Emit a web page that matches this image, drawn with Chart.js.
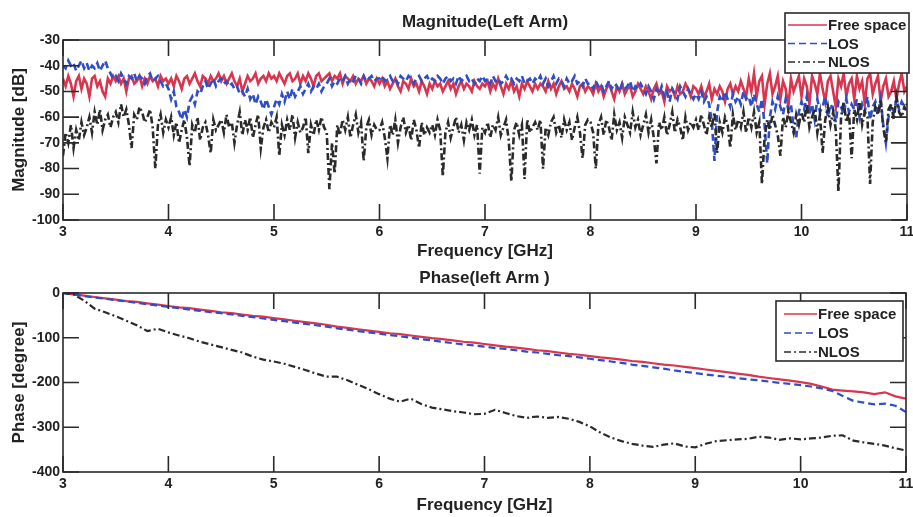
<!DOCTYPE html>
<html>
<head>
<meta charset="utf-8">
<title>Left Arm channel response</title>
<script src="https://cdn.jsdelivr.net/npm/chart.js@4.4.0/dist/chart.umd.min.js"></script>
<style>
  body { margin: 0; background: #fff; }
  canvas { display: block; }
</style>
</head>
<body>
<canvas id="magChart" width="913" height="264"></canvas>
<canvas id="phaseChart" width="913" height="253"></canvas>
<script>
// magnitude traces, 3 to 11 GHz every 25 MHz (dB)
const magStart = 3, magStep = 0.025;

const freeSpaceMag = [
  -45,-48,-44,-47,-52,-46,-44,-49,-45,-47,-52,-45,-44,-48,-46,-50,-52,-45,-47,-44,
  -46,-44,-47,-45,-50,-45,-44,-47,-46,-44,-48,-45,-47,-44,-46,-45,-48,-44,-46,-45,
  -47,-45,-48,-44,-46,-49,-45,-44,-47,-45,-43,-46,-48,-44,-45,-47,-44,-46,-45,-43,
  -46,-44,-47,-45,-43,-46,-48,-45,-50,-47,-44,-46,-45,-43,-47,-45,-44,-46,-43,-45,
  -44,-46,-43,-45,-47,-44,-43,-46,-45,-43,-47,-44,-46,-43,-45,-48,-44,-43,-46,-45,
  -44,-43,-46,-44,-45,-43,-47,-44,-45,-46,-44,-47,-45,-46,-44,-47,-45,-46,-48,-45,
  -47,-45,-48,-46,-49,-47,-45,-48,-50,-46,-47,-49,-45,-48,-47,-50,-46,-48,-51,-47,
  -49,-46,-48,-47,-50,-48,-46,-49,-47,-51,-48,-46,-49,-47,-48,-50,-46,-48,-49,-47,
  -48,-46,-50,-47,-49,-45,-48,-51,-47,-49,-46,-50,-48,-52,-47,-49,-46,-48,-50,-47,
  -49,-47,-48,-50,-46,-49,-47,-51,-48,-46,-49,-48,-50,-47,-49,-52,-48,-47,-50,-48,
  -49,-51,-47,-50,-48,-52,-49,-47,-50,-53,-48,-50,-47,-51,-49,-48,-52,-50,-47,-49,
  -51,-48,-50,-53,-49,-47,-51,-50,-54,-48,-50,-49,-52,-48,-51,-50,-47,-49,-52,-48,
  -49,-51,-48,-52,-50,-47,-53,-49,-51,-48,-50,-54,-49,-47,-51,-48,-50,-46,-49,-52,
  -45,-50,-43,-52,-46,-44,-55,-47,-43,-51,-48,-44,-53,-46,-49,-56,-45,-50,-47,-44,
  -52,-45,-48,-55,-44,-47,-51,-43,-49,-54,-46,-44,-50,-56,-45,-48,-43,-52,-47,-45,
  -53,-44,-49,-46,-55,-45,-43,-51,-47,-44,-54,-48,-45,-52,-50,-46,-53,-47,-43,-50,
  -48
];

const losMag = [
  -40,-41,-38,-40,-39,-42,-40,-38,-41,-39,-42,-40,-41,-39,-42,-40,-38,-41,-43,-45,
  -44,-46,-43,-45,-47,-44,-45,-43,-46,-44,-45,-47,-44,-43,-46,-45,-44,-46,-48,-47,
  -49,-53,-50,-56,-58,-61,-57,-60,-54,-52,-55,-50,-51,-48,-46,-49,-47,-45,-48,-46,
  -45,-47,-46,-48,-47,-49,-48,-51,-50,-52,-49,-53,-51,-55,-52,-54,-57,-53,-56,-59,
  -56,-53,-55,-51,-54,-50,-53,-49,-52,-50,-48,-51,-49,-47,-50,-48,-49,-47,-50,-48,
  -47,-45,-48,-46,-47,-45,-46,-44,-47,-45,-46,-44,-45,-47,-44,-46,-45,-44,-46,-45,
  -45,-44,-46,-45,-44,-46,-45,-47,-44,-45,-46,-44,-45,-47,-45,-44,-46,-45,-44,-46,
  -45,-46,-44,-45,-47,-45,-44,-46,-45,-47,-44,-46,-45,-44,-46,-45,-47,-45,-46,-44,
  -46,-45,-47,-44,-46,-45,-47,-46,-44,-46,-45,-47,-45,-46,-44,-47,-46,-45,-47,-45,
  -46,-44,-47,-45,-48,-46,-44,-47,-45,-46,-48,-45,-47,-46,-44,-47,-46,-48,-45,-47,
  -47,-49,-46,-48,-47,-50,-48,-46,-49,-47,-48,-50,-47,-49,-48,-46,-50,-48,-49,-47,
  -49,-51,-48,-50,-53,-49,-51,-48,-52,-50,-54,-49,-51,-53,-48,-50,-52,-49,-51,-53,
  -51,-53,-50,-54,-52,-55,-62,-77,-58,-52,-54,-50,-53,-56,-51,-54,-52,-55,-50,-53,
  -52,-56,-51,-55,-58,-53,-63,-78,-60,-54,-57,-52,-56,-59,-53,-57,-55,-64,-68,-58,
  -54,-57,-52,-59,-55,-61,-53,-58,-56,-52,-60,-55,-57,-62,-54,-56,-59,-53,-58,-55,
  -57,-53,-60,-55,-58,-52,-61,-56,-54,-59,-53,-63,-70,-60,-55,-58,-53,-57,-54,-56,
  -55
];

const nlosMag = [
  -75,-66,-70,-63,-72,-65,-69,-62,-67,-64,-60,-66,-58,-63,-57,-65,-61,-59,-64,-60,
  -58,-62,-55,-60,-57,-63,-72,-59,-61,-56,-58,-62,-60,-57,-64,-80,-63,-59,-66,-61,
  -64,-60,-67,-62,-70,-65,-61,-68,-79,-63,-66,-60,-69,-64,-62,-67,-74,-61,-65,-63,
  -61,-66,-59,-64,-62,-70,-63,-58,-67,-61,-65,-60,-68,-63,-59,-72,-64,-61,-66,-62,
  -64,-60,-75,-63,-67,-61,-65,-59,-68,-62,-66,-64,-60,-74,-63,-67,-61,-65,-60,-64,
  -66,-88,-70,-82,-63,-67,-61,-65,-60,-68,-63,-59,-66,-62,-77,-64,-61,-67,-63,-65,
  -65,-62,-68,-76,-63,-67,-61,-70,-64,-60,-66,-63,-69,-61,-65,-72,-62,-67,-64,-66,
  -63,-67,-61,-65,-83,-66,-62,-68,-64,-60,-66,-63,-69,-62,-65,-61,-67,-63,-82,-64,
  -66,-62,-68,-63,-65,-60,-67,-64,-61,-69,-85,-65,-62,-67,-63,-84,-61,-66,-64,-62,
  -65,-61,-80,-64,-67,-62,-60,-66,-63,-68,-61,-65,-62,-69,-64,-60,-66,-76,-63,-61,
  -62,-66,-80,-63,-60,-67,-61,-64,-69,-59,-65,-62,-68,-60,-63,-66,-58,-64,-61,-67,
  -63,-59,-66,-61,-68,-78,-62,-65,-60,-67,-63,-58,-66,-61,-64,-69,-60,-65,-62,-64,
  -61,-65,-59,-63,-67,-60,-64,-58,-74,-62,-66,-60,-63,-72,-59,-65,-61,-64,-58,-66,
  -60,-64,-58,-66,-62,-86,-68,-61,-65,-59,-63,-67,-75,-60,-64,-58,-62,-66,-59,-63,
  -58,-62,-55,-64,-60,-57,-66,-59,-74,-61,-56,-63,-58,-65,-89,-60,-54,-62,-58,-76,
  -57,-61,-54,-63,-58,-60,-86,-62,-56,-59,-53,-64,-70,-57,-55,-61,-52,-58,-60,-56,
  -58
];

// unwrapped phase, 3 to 11 GHz every 100 MHz (degree)
const phaseStart = 3, phaseStep = 0.1;

const freeSpacePhase = [
  0,-3,-6,-9,-12,-15,-18,-20,-23,-26,
  -29,-32,-34,-37,-40,-43,-45,-48,-51,-53,
  -56,-59,-62,-65,-68,-71,-75,-78,-81,-84,
  -87,-90,-92,-95,-98,-101,-103,-106,-109,-111,
  -114,-117,-120,-122,-125,-128,-130,-133,-136,-138,
  -141,-144,-146,-149,-152,-154,-157,-160,-162,-165,
  -168,-171,-174,-177,-180,-183,-187,-190,-193,-196,
  -199,-203,-209,-216,-218,-220,-222,-226,-222,-231,
  -236
];

const losPhase = [
  0,-3,-7,-10,-13,-16,-19,-22,-25,-28,
  -31,-34,-37,-40,-43,-45,-48,-51,-54,-57,
  -60,-63,-66,-69,-72,-75,-79,-82,-85,-88,
  -91,-94,-97,-100,-103,-106,-109,-112,-115,-117,
  -120,-123,-125,-128,-131,-133,-136,-139,-141,-144,
  -147,-150,-153,-156,-160,-163,-166,-169,-173,-176,
  -179,-182,-185,-187,-190,-193,-195,-198,-201,-203,
  -206,-209,-213,-219,-230,-241,-245,-249,-247,-252,
  -266
];

const nlosPhase = [
  0,-3,-17,-35,-43,-52,-62,-72,-85,-80,
  -88,-95,-101,-109,-115,-121,-127,-133,-142,-149,
  -153,-158,-165,-172,-180,-187,-187,-195,-205,-215,
  -226,-236,-243,-236,-248,-256,-260,-264,-267,-271,
  -270,-261,-268,-275,-279,-276,-279,-277,-281,-288,
  -298,-312,-323,-331,-337,-341,-344,-339,-336,-343,
  -345,-337,-331,-329,-327,-326,-321,-323,-328,-325,
  -327,-325,-323,-319,-318,-330,-334,-337,-341,-347,
  -352
];

const seriesLabels = ['Free space', 'LOS', 'NLOS'];

const FONT = '"Liberation Sans", Arial, Helvetica, sans-serif';
const INK = '#222';
Chart.defaults.font.family = FONT;
Chart.defaults.color = INK;

function toPoints(values, start, step) {
  return values.map((v, i) => ({ x: +(start + i * step).toFixed(3), y: v }));
}

const lineStyles = [
  { borderColor: '#d8354f', borderDash: [], order: 3 },
  { borderColor: '#2d4ec6', borderDash: [7, 4], order: 2 },
  { borderColor: '#2a2a2a', borderDash: [7, 3, 2, 3], order: 1 }
];

function makeDatasets(series, start, step, width) {
  return series.map((vals, i) => ({
    label: seriesLabels[i],
    data: toPoints(vals, start, step),
    borderColor: lineStyles[i].borderColor,
    borderDash: lineStyles[i].borderDash,
    order: lineStyles[i].order,
    borderWidth: width,
    pointRadius: 0,
    tension: 0,
    fill: false
  }));
}

// box around the axes plus inward tick marks on all four sides
const frameTicks = {
  id: 'frameTicks',
  afterDatasetsDraw(chart, args, opts) {
    const { ctx, chartArea: a, scales: { x, y } } = chart;
    ctx.save();
    ctx.strokeStyle = '#2a2a2a';
    ctx.lineWidth = 1.6;
    ctx.setLineDash([]);
    ctx.beginPath();
    x.ticks.forEach(t => {
      const px = x.getPixelForValue(t.value);
      ctx.moveTo(px, a.bottom); ctx.lineTo(px, a.bottom - opts.len);
      ctx.moveTo(px, a.top); ctx.lineTo(px, a.top + opts.len);
    });
    y.ticks.forEach(t => {
      const py = y.getPixelForValue(t.value);
      ctx.moveTo(a.left, py); ctx.lineTo(a.left + opts.len, py);
      ctx.moveTo(a.right, py); ctx.lineTo(a.right - opts.len, py);
    });
    ctx.stroke();
    ctx.strokeRect(a.left, a.top, a.right - a.left, a.bottom - a.top);
    ctx.restore();
  }
};

// boxed legend in the upper right corner
const boxLegend = {
  id: 'boxLegend',
  afterDraw(chart, args, opts) {
    const { ctx } = chart;
    ctx.save();
    ctx.fillStyle = '#fff';
    ctx.fillRect(opts.left, opts.top, opts.width, opts.height);
    ctx.strokeStyle = '#2a2a2a';
    ctx.lineWidth = 1.6;
    ctx.strokeRect(opts.left, opts.top, opts.width, opts.height);
    ctx.font = 'bold 15px ' + FONT;
    ctx.textBaseline = 'middle';
    chart.data.datasets.forEach((ds, i) => {
      const yy = opts.top + opts.firstRow + i * opts.rowGap;
      ctx.strokeStyle = ds.borderColor;
      ctx.lineWidth = 1.6;
      ctx.setLineDash(ds.borderDash);
      ctx.beginPath();
      ctx.moveTo(opts.left + opts.lineFrom, yy);
      ctx.lineTo(opts.left + opts.lineTo, yy);
      ctx.stroke();
      ctx.setLineDash([]);
      ctx.fillStyle = INK;
      ctx.fillText(ds.label, opts.left + opts.lineTo + 1, yy + 1);
    });
    ctx.restore();
  }
};

function axisOptions(cfg) {
  return {
    x: {
      type: 'linear',
      min: 3,
      max: 11,
      ticks: { stepSize: 1, padding: 4, maxRotation: 0, font: { size: 14, weight: 'bold' } },
      grid: { display: false, drawTicks: false },
      border: { display: false },
      title: {
        display: true,
        text: 'Frequency [GHz]',
        font: { size: 17, weight: 'bold' },
        padding: { top: 0, bottom: cfg.xTitlePad }
      },
      afterFit(s) { s.height = cfg.xHeight; s.paddingRight = 0; s.paddingLeft = 0; }
    },
    y: {
      min: cfg.yMin,
      max: cfg.yMax,
      ticks: { stepSize: cfg.yStep, padding: 3, font: { size: 14, weight: 'bold' } },
      grid: { display: false, drawTicks: false },
      border: { display: false },
      title: {
        display: true,
        text: cfg.yTitle,
        font: { size: 17, weight: 'bold' },
        padding: { top: 9, bottom: 0 }
      },
      afterFit(s) { s.width = 63; }
    }
  };
}

new Chart(document.getElementById('magChart'), {
  type: 'line',
  data: { datasets: makeDatasets([freeSpaceMag, losMag, nlosMag], magStart, magStep, 2.6) },
  options: {
    responsive: false,
    animation: false,
    events: [],
    layout: { padding: { left: 0, right: 6, top: 0, bottom: 0 } },
    scales: axisOptions({ yMin: -100, yMax: -30, yStep: 10, yTitle: 'Magnitude [dB]', xHeight: 44, xTitlePad: 2 }),
    plugins: {
      legend: { display: false },
      tooltip: { enabled: false },
      title: {
        display: true,
        fullSize: false,
        text: 'Magnitude(Left Arm)',
        color: INK,
        font: { size: 17, weight: 'bold' },
        padding: { top: 11.8, bottom: 7.8 }
      },
      frameTicks: { len: 16 },
      boxLegend: { left: 785, top: 13, width: 124, height: 60, firstRow: 12, rowGap: 18.5, lineFrom: 3, lineTo: 42 }
    }
  },
  plugins: [frameTicks, boxLegend]
});

new Chart(document.getElementById('phaseChart'), {
  type: 'line',
  data: { datasets: makeDatasets([freeSpacePhase, losPhase, nlosPhase], phaseStart, phaseStep, 2.2) },
  options: {
    responsive: false,
    animation: false,
    events: [],
    layout: { padding: { left: 0, right: 7, top: 0, bottom: 0 } },
    scales: axisOptions({ yMin: -400, yMax: 0, yStep: 100, yTitle: 'Phase [degree]', xHeight: 45, xTitlePad: 1 }),
    plugins: {
      legend: { display: false },
      tooltip: { enabled: false },
      title: {
        display: true,
        fullSize: false,
        text: 'Phase(left Arm )',
        color: INK,
        font: { size: 17, weight: 'bold' },
        padding: { top: 3.8, bottom: 4.8 }
      },
      frameTicks: { len: 16 },
      boxLegend: { left: 776, top: 37, width: 127, height: 60, firstRow: 13, rowGap: 19, lineFrom: 8, lineTo: 41 }
    }
  },
  plugins: [frameTicks, boxLegend]
});
</script>
</body>
</html>
